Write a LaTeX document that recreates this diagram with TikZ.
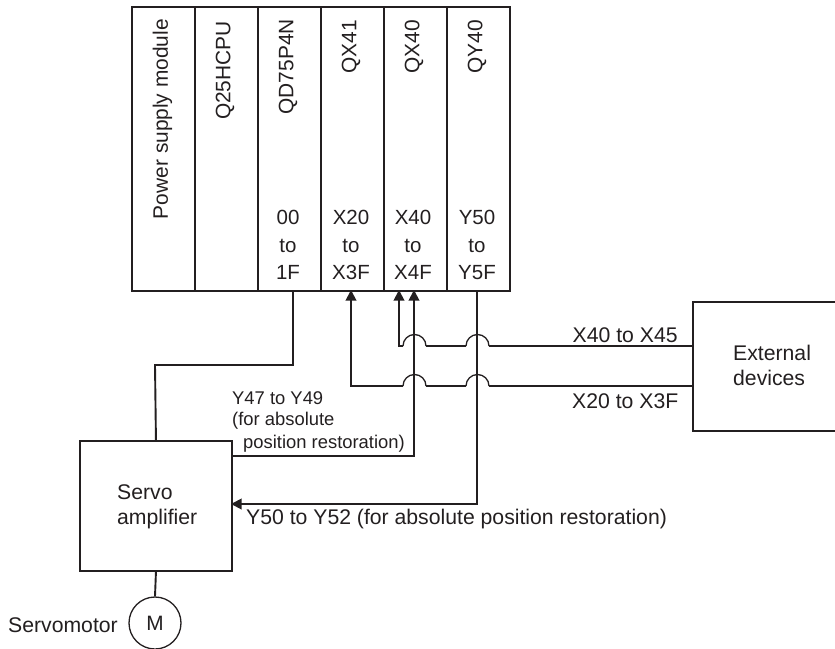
\documentclass[tikz,border=0pt]{standalone}
\usepackage{fontspec}
\setmainfont{Liberation Sans}
\usetikzlibrary{arrows.meta}
\definecolor{ink}{HTML}{231F20}
\tikzset{
  wire/.style={draw=ink,line width=1.9pt,line join=miter},
  thinwire/.style={draw=ink,line width=1.3pt},
  head/.style={-{Triangle[length=10.5pt,width=10.5pt]}},
  slot/.style={draw=ink,line width=1.9pt,minimum height=284pt,inner sep=0pt,anchor=north west},
  modname/.style={rotate=90,anchor=east,inner sep=0pt,text=ink,font=\fontsize{20.9pt}{24pt}\selectfont},
  addr/.style={anchor=center,inner sep=0pt,align=center,text=ink,font=\fontsize{20.5pt}{27.5pt}\selectfont},
  lbl/.style={anchor=west,inner sep=0pt,text=ink,font=\fontsize{21.2pt}{25pt}\selectfont},
  small/.style={anchor=west,inner sep=0pt,text=ink,font=\fontsize{18.4pt}{22pt}\selectfont},
  box/.style={draw=ink,line width=1.9pt,inner sep=0pt,anchor=north west},
  blocktext/.style={anchor=west,inner sep=0pt,align=left,text=ink,font=\fontsize{21.2pt}{25pt}\selectfont},
}
\begin{document}
\begin{tikzpicture}[x=1pt,y=-1pt]
\useasboundingbox (0,0) rectangle (835,648);
% rack
\node[slot,minimum width=63pt] (s1) at (131,6) {};
\node[slot,minimum width=63pt] (s2) at (194,6) {};
\node[slot,minimum width=63pt] (s3) at (257,6) {};
\node[slot,minimum width=63pt] (s4) at (320,6) {};
\node[slot,minimum width=63pt] (s5) at (383,6) {};
\node[slot,minimum width=63pt] (s6) at (446,6) {};
\node[modname] (n1) at (162.5,19) {Power supply module};
\node[modname] (n2) at (225,21) {Q25HCPU};
\node[modname] (n3) at (288,19) {QD75P4N};
\node[modname] (n4) at (351,20) {QX41};
\node[modname] (n5) at (414,20) {QX40};
\node[modname] (n6) at (477,20) {QY40};
\node[addr] (a3) at (288,245) {00\\to\\1F};
\node[addr] (a4) at (351,245) {X20\\to\\X3F};
\node[addr] (a5) at (413,245) {X40\\to\\X4F};
\node[addr] (a6) at (477,245) {Y50\\to\\Y5F};
% blocks
\node[box,minimum width=152pt,minimum height=130pt] (servo) at (79,440) {};
\node[blocktext] (servotext) at (117,506.5) {Servo\\amplifier};
\node[draw=ink,line width=1.3pt,circle,minimum size=52pt,inner sep=0pt,text=ink,font=\fontsize{20.8pt}{25pt}\selectfont] (motor) at (155,623) {M};
\node[lbl] (mlabel) at (8,625.5) {Servomotor};
\draw[wire] (835,302) -- (693,302) -- (693,431) -- (835,431);
\node[blocktext] (ext) at (733,365.5) {External\\devices};
% named junctions
\coordinate (t293) at (293,290);
\coordinate (t351) at (351,290);
\coordinate (t399) at (399,290);
\coordinate (t414) at (414,290);
\coordinate (t477) at (477,290);
\coordinate (e40) at (693,346);
\coordinate (e20) at (693,386);
% connectors
\draw[wire] (t293) -- (293,365) -- (155,365) -- (servo.north);
\draw[wire] (servo.south) -- (motor.north);
\draw[wire,head] (231,456) -- (414,456) -- (t414);
\draw[wire,head] (t477) -- (477,504) -- (231,504);
% X40 to X45 line
\draw[wire] (e40) -- (489,346);
\draw[thinwire] (489,346) arc[start angle=0,end angle=180,radius=11.5pt];
\draw[wire] (466,346) -- (426,346);
\draw[thinwire] (426,346) arc[start angle=0,end angle=180,radius=11.5pt];
\draw[wire,head] (403,346) -- (399,346) -- (t399);
% X20 to X3F line
\draw[wire] (e20) -- (489,386);
\draw[thinwire] (489,386) arc[start angle=0,end angle=180,radius=11.5pt];
\draw[wire] (466,386) -- (426,386);
\draw[thinwire] (426,386) arc[start angle=0,end angle=180,radius=11.5pt];
\draw[wire,head] (403,386) -- (351,386) -- (t351);
% labels
\node[lbl] (l1) at (572.5,335) {X40 to X45};
\node[lbl] (l2) at (572,401) {X20 to X3F};
\node[small] (l3) at (232,398) {Y47 to Y49};
\node[small] (l4) at (232,421) {(for absolute};
\node[small] (l5) at (243,444) {position restoration)};
\node[lbl] (l6) at (246,519.5) {Y50 to Y52 (for absolute position restoration)};
\end{tikzpicture}
\end{document}
